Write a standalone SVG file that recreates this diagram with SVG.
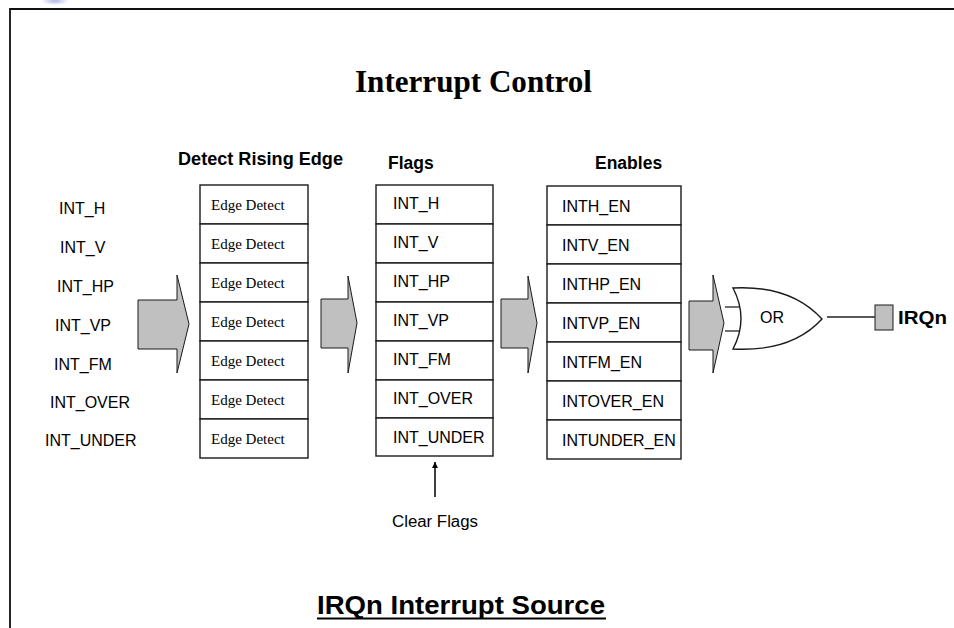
<svg xmlns="http://www.w3.org/2000/svg" width="954" height="628" viewBox="0 0 954 628">
<defs>
<style>
.sans{font-family:"Liberation Sans",Arial,sans-serif;fill:#000}
.serif{font-family:"Liberation Serif","Times New Roman",serif;fill:#000}
.lbl{font-size:16px}
.hdr{font-size:17.5px;font-weight:bold}
.ed{font-size:15px}
.box{fill:#fff;stroke:#1a1a1a;stroke-width:1.4}
.blk{fill:#c0c0c0;stroke:#1a1a1a;stroke-width:1}
.ln{fill:none;stroke:#222;stroke-width:1.3}
</style>
<marker id="ah" viewBox="0 0 10 10" refX="10" refY="5" markerWidth="6" markerHeight="8" orient="auto" markerUnits="userSpaceOnUse">
<path d="M0,0 L10,5 L0,10 z" fill="#000"/>
</marker>
<radialGradient id="blur"><stop offset="0" stop-color="#9aa3e0" stop-opacity="0.8"/><stop offset="1" stop-color="#9aa3e0" stop-opacity="0"/></radialGradient>
</defs>
<rect width="954" height="628" fill="#fff"/>
<ellipse cx="55" cy="1" rx="14" ry="4" fill="url(#blur)"/>
<path d="M10,628 L10,9 L954,9" fill="none" stroke="#111" stroke-width="1.8"/>

<text class="serif" x="355" y="92" font-size="31" font-weight="bold" textLength="237" lengthAdjust="spacingAndGlyphs">Interrupt Control</text>

<g id="inputs" class="sans lbl">
<text x="59" y="214">INT_H</text>
<text x="60" y="253">INT_V</text>
<text x="57" y="292">INT_HP</text>
<text x="55" y="331">INT_VP</text>
<text x="54" y="370">INT_FM</text>
<text x="50" y="408">INT_OVER</text>
<text x="45" y="446">INT_UNDER</text>
</g>

<g id="edge-detect">
<text class="sans hdr" x="178" y="165" textLength="165" lengthAdjust="spacingAndGlyphs">Detect Rising Edge</text>
<rect class="box" x="200" y="185" width="108" height="39"/>
<rect class="box" x="200" y="224" width="108" height="39"/>
<rect class="box" x="200" y="263" width="108" height="39"/>
<rect class="box" x="200" y="302" width="108" height="39"/>
<rect class="box" x="200" y="341" width="108" height="39"/>
<rect class="box" x="200" y="380" width="108" height="39"/>
<rect class="box" x="200" y="419" width="108" height="39"/>
<g class="serif ed">
<text x="211" y="210">Edge Detect</text>
<text x="211" y="249">Edge Detect</text>
<text x="211" y="288">Edge Detect</text>
<text x="211" y="327">Edge Detect</text>
<text x="211" y="366">Edge Detect</text>
<text x="211" y="405">Edge Detect</text>
<text x="211" y="444">Edge Detect</text>
</g>
</g>

<g id="flags">
<text class="sans hdr" x="388" y="169">Flags</text>
<rect class="box" x="376" y="185" width="117" height="39"/>
<rect class="box" x="376" y="224" width="117" height="39"/>
<rect class="box" x="376" y="263" width="117" height="39"/>
<rect class="box" x="376" y="302" width="117" height="39"/>
<rect class="box" x="376" y="341" width="117" height="39"/>
<rect class="box" x="376" y="380" width="117" height="38"/>
<rect class="box" x="376" y="418" width="117" height="38"/>
<g class="sans lbl">
<text x="393" y="209">INT_H</text>
<text x="393" y="248">INT_V</text>
<text x="393" y="287">INT_HP</text>
<text x="393" y="326">INT_VP</text>
<text x="393" y="365">INT_FM</text>
<text x="393" y="404">INT_OVER</text>
<text x="393" y="443">INT_UNDER</text>
</g>
</g>

<g id="enables">
<text class="sans hdr" x="595" y="169">Enables</text>
<rect class="box" x="547" y="186" width="134" height="39"/>
<rect class="box" x="547" y="225" width="134" height="39"/>
<rect class="box" x="547" y="264" width="134" height="39"/>
<rect class="box" x="547" y="303" width="134" height="39"/>
<rect class="box" x="547" y="342" width="134" height="39"/>
<rect class="box" x="547" y="381" width="134" height="39"/>
<rect class="box" x="547" y="420" width="134" height="39"/>
<g class="sans lbl">
<text x="562" y="212">INTH_EN</text>
<text x="562" y="251">INTV_EN</text>
<text x="562" y="290">INTHP_EN</text>
<text x="562" y="329">INTVP_EN</text>
<text x="562" y="368">INTFM_EN</text>
<text x="562" y="407">INTOVER_EN</text>
<text x="562" y="446">INTUNDER_EN</text>
</g>
</g>

<g id="or-gate">
<path class="box" d="M733,288 C770,286 800,295 822,319 C800,343 770,351 733,349 Q749,318.5 733,288 Z"/>
<text class="sans lbl" x="760" y="323">OR</text>
</g>

<g id="irqn">
<rect class="blk" x="875" y="305" width="18" height="25"/>
<text class="sans" x="898" y="324" font-size="19" font-weight="bold" textLength="49" lengthAdjust="spacingAndGlyphs">IRQn</text>
</g>

<g id="connectors">
<polygon class="blk" points="138,300 177,300 177,275 189,324 177,373 177,349 138,349"/>
<polygon class="blk" points="321,299 348,299 348,276 357,323 348,373 348,348 321,348"/>
<polygon class="blk" points="501,299 528,299 528,276 537,323 528,373 528,348 501,348"/>
<polygon class="blk" points="689,301 713,301 713,275 724,323 713,373 713,350 689,350"/>
<line class="ln" x1="725" y1="307" x2="739" y2="307"/>
<line class="ln" x1="725" y1="331" x2="739" y2="331"/>
<line class="ln" x1="827" y1="317" x2="875" y2="317"/>
<line x1="435" y1="497" x2="435" y2="462" stroke="#000" stroke-width="1.5" marker-end="url(#ah)"/>
</g>

<text class="sans" x="392" y="527" font-size="16" textLength="86" lengthAdjust="spacingAndGlyphs">Clear Flags</text>

<g id="footer">
<text class="sans" x="317" y="614" font-size="26" font-weight="bold" textLength="288" lengthAdjust="spacingAndGlyphs">IRQn Interrupt Source</text>
<line x1="317" y1="618.5" x2="606" y2="618.5" stroke="#000" stroke-width="2"/>
</g>
</svg>
